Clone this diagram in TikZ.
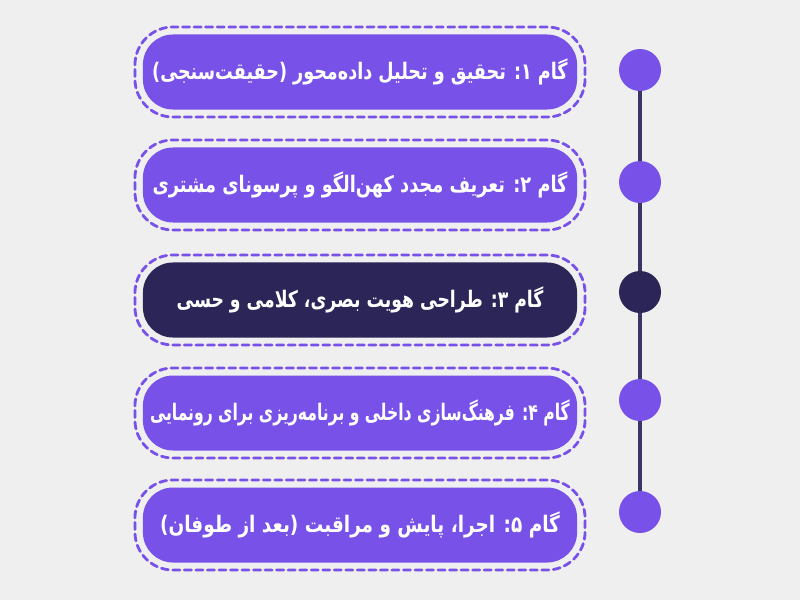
\documentclass[tikz,border=0pt]{standalone}
\usepackage{fontspec}
\usetikzlibrary{positioning}
\newfontfamily\arabicfont[Script=Arabic]{DejaVu Sans Condensed}
\TeXXeTstate=1
\definecolor{bggray}{HTML}{EFEFEF}
\definecolor{violet1}{HTML}{7852E8}
\definecolor{navy1}{HTML}{2C2558}
\definecolor{rail}{HTML}{3B3466}

\begin{document}
\begin{tikzpicture}[x=0.025cm,y=-0.025cm]
\tikzset{font={\arabicfont\bfseries\fontsize{13.5}{16}\selectfont}}
\tikzset{stepbox/.style={rounded corners=0.75cm, minimum width=10.85cm, minimum height=1.875cm, text=white, inner sep=0pt}}
\tikzset{stepframe/.style={rounded corners=0.95cm, minimum width=11.25cm, minimum height=2.25cm, draw=violet1, line width=2pt, dash pattern=on 5pt off 3.2pt, line cap=round}}
\tikzset{dot/.style={circle, minimum size=1.05cm, inner sep=0pt}}

%Background
\fill[bggray] (0,0) rectangle (800,600);
\useasboundingbox (0,0) rectangle (800,600);

%Steps
\foreach \i/\y/\c/\sx/\txt in {1/72/violet1/1.03/{گام ۱: تحقیق و تحلیل داده‌محور (حقیقت‌سنجی)},
                               2/185/violet1/1.04/{گام ۲: تعریف مجدد کهن‌الگو و پرسونای مشتری},
                               3/300/navy1/1.01/{گام ۳: طراحی هویت بصری، کلامی و حسی},
                               4/413/violet1/0.915/{گام ۴: فرهنگ‌سازی داخلی و برنامه‌ریزی برای رونمایی},
                               5/525/violet1/1.08/{گام ۵: اجرا، پایش و مراقبت (بعد از طوفان)}}
{
\node[stepframe] (frame\i) at (360,\y) {};
\node[stepbox,fill=\c] (step\i) at (frame\i) {\scalebox{\sx}[1.2]{\beginR\txt\endR}};
}

%Timeline
\foreach \i/\y/\c in {1/70/violet1,2/182/violet1,3/292/navy1,4/400/violet1,5/512/violet1}
\node[dot,fill=\c] (dot\i) at (640,\y) {};
\foreach \i/\j in {1/2,2/3,3/4,4/5}
\draw[rail,line width=2.2pt] (dot\i) -- (dot\j);

\end{tikzpicture}
\end{document}
